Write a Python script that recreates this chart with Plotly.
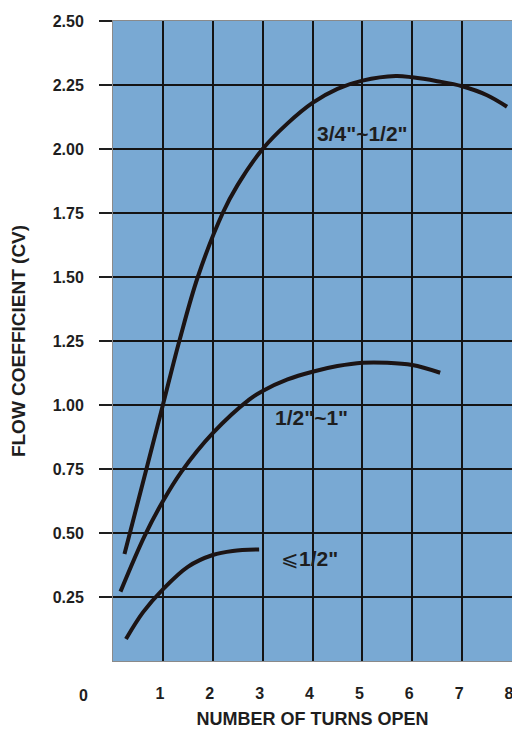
import plotly.graph_objects as go

# ---- data ----
x_large = [0.23, 0.67, 1.0, 1.33, 1.70, 2.2, 2.5, 3.0, 3.5, 4.0, 4.5, 5.0, 5.67, 6.0, 6.5, 7.0, 7.5, 7.9]
y_large = [0.418, 0.75, 1.0, 1.25, 1.5, 1.75, 1.86, 2.0, 2.10, 2.18, 2.235, 2.267, 2.285, 2.28, 2.265, 2.245, 2.21, 2.165]

x_mid = [0.15, 0.63, 1.0, 1.37, 2.0, 2.73, 3.0, 3.5, 4.0, 4.5, 5.0, 5.5, 6.0, 6.56]
y_mid = [0.271, 0.487, 0.624, 0.739, 0.89, 1.021, 1.055, 1.10, 1.13, 1.152, 1.165, 1.165, 1.156, 1.126]

x_small = [0.26, 0.6, 1.0, 1.5, 2.0, 2.4, 2.93]
y_small = [0.086, 0.19, 0.28, 0.368, 0.414, 0.43, 0.436]

series_names = ['3/4"~1/2"', '1/2"~1"', '1/2"']
x_ticks = [1, 2, 3, 4, 5, 6, 7, 8]
y_ticks = [0.25, 0.50, 0.75, 1.00, 1.25, 1.50, 1.75, 2.00, 2.25, 2.50]
x_title = "NUMBER OF TURNS OPEN"
y_title = "FLOW COEFFICIENT (CV)"

# label anchor points (data units)
label_x = [5.0, 3.98, 3.94]
label_y = [2.06, 0.95, 0.40]

FONT = "Liberation Sans, Arial, sans-serif"
INK = "#1e1e1e"
CURVE = "#1c1414"

fig = go.Figure()
for xs, ys in [(x_large, y_large), (x_mid, y_mid), (x_small, y_small)]:
    fig.add_trace(go.Scatter(x=xs, y=ys, mode="lines",
                             line=dict(color=CURVE, width=4, shape="spline", smoothing=1.0),
                             showlegend=False, hoverinfo="skip"))

label_texts = ['<b>' + series_names[0] + '</b>', '<b>' + series_names[1] + '</b>',
               '⩽<b>' + series_names[2] + '</b>']
for t, lx, ly in zip(label_texts, label_x, label_y):
    fig.add_annotation(x=lx, y=ly, text=t, showarrow=False,
                       font=dict(family=FONT, size=21, color=INK))

# corner "0" label
fig.add_annotation(x=0, y=0, xref="x", yref="paper", text="<b>0</b>", showarrow=False,
                   xanchor="center", yanchor="top", xshift=-30, yshift=-24,
                   font=dict(family=FONT, size=16, color=INK))

fig.update_layout(
    width=512, height=729,
    margin=dict(l=113, r=0, t=21, b=68),
    paper_bgcolor="white",
    plot_bgcolor="#79a9d3",
    font=dict(family=FONT, color=INK),
    xaxis=dict(range=[0, 8], tickvals=x_ticks, ticktext=[f"<b>{v}</b>" for v in x_ticks],
               automargin=False,
               showgrid=True, gridcolor="#141414", gridwidth=1.5,
               showline=True, linecolor="#8a8a8a", linewidth=1, mirror=True,
               ticks="", zeroline=False,
               ticklabelstandoff=18, ticklabelshift=-3, ticklabeloverflow="allow",
               tickfont=dict(family=FONT, size=16, color=INK),
               title=dict(text=f"<b>{x_title}</b>", standoff=16,
                          font=dict(family=FONT, size=18, color=INK))),
    yaxis=dict(range=[0, 2.5], tickvals=y_ticks, ticktext=[f"<b>{v:.2f}</b>" for v in y_ticks],
               automargin=False,
               showgrid=True, gridcolor="#141414", gridwidth=1.5,
               showline=True, linecolor="#8a8a8a", linewidth=1, mirror=True,
               ticks="outside", ticklen=13, tickcolor=INK, tickwidth=1.5,
               zeroline=False, ticklabelstandoff=12, ticklabeloverflow="allow",
               tickfont=dict(family=FONT, size=16, color=INK),
               title=dict(text=f"<b>{y_title}</b>", standoff=22,
                          font=dict(family=FONT, size=19, color=INK))),
)

# remove the page's default body margin so the 512x729 figure fills the window exactly
fig.write_html("out.html",
               config={"displayModeBar": False},
               post_script="document.body.style.margin='0';document.body.style.overflow='hidden';")
